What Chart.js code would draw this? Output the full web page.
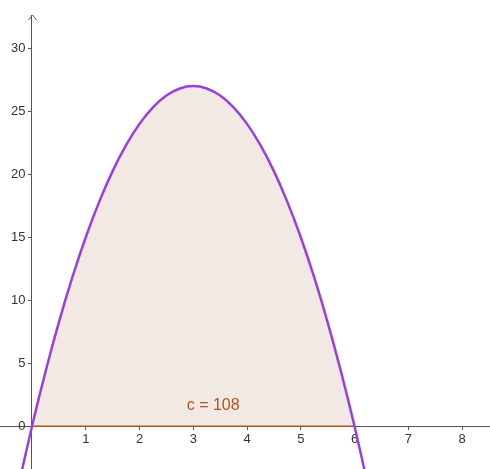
<!DOCTYPE html>
<html>
<head>
<meta charset="utf-8">
<script src="https://cdn.jsdelivr.net/npm/chart.js@4"></script>
<style>
  html, body { margin: 0; padding: 0; background: #fff; }
  #wrap { width: 490px; height: 469px; }
</style>
</head>
<body>
<div id="wrap"><canvas id="chart"></canvas></div>
<script>
// values
const curveX = [-0.25, 0, 0.25, 0.5, 0.75, 1, 1.25, 1.5, 1.75, 2, 2.25, 2.5, 2.75, 3,
                3.25, 3.5, 3.75, 4, 4.25, 4.5, 4.75, 5, 5.25, 5.5, 5.75, 6, 6.25];
const curveY = [-4.69, 0, 4.31, 8.25, 11.81, 15, 17.81, 20.25, 22.31, 24, 25.31, 26.25, 26.81, 27,
                26.81, 26.25, 25.31, 24, 22.31, 20.25, 17.81, 15, 11.81, 8.25, 4.31, 0, -4.69];
const areaFrom = 0;
const areaTo = 6;
const areaLabel = 'c = 108';
const xTicks = [1, 2, 3, 4, 5, 6, 7, 8];
const yTicks = [0, 5, 10, 15, 20, 25, 30];

const curvePts = curveX.map((x, i) => ({ x, y: curveY[i] }));
const areaPts = curvePts.filter(p => p.x >= areaFrom && p.x <= areaTo);

const FONT = '"Liberation Sans", Arial, sans-serif';
const AXIS = '#555';

// arrow on the y axis, y tick labels, area label
const extras = {
    id: 'extras',
    afterDraw(chart) {
        const { ctx, chartArea, scales: { x, y } } = chart;
        const ax = Math.round(x.getPixelForValue(0)) + 0.5;
        ctx.save();
        ctx.strokeStyle = AXIS;
        ctx.lineWidth = 1;
        ctx.beginPath();
        ctx.moveTo(ax - 4, chartArea.top + 5);
        ctx.lineTo(ax, chartArea.top);
        ctx.lineTo(ax + 4, chartArea.top + 5);
        ctx.stroke();

        ctx.fillStyle = '#333';
        ctx.font = '13px ' + FONT;
        ctx.textAlign = 'right';
        ctx.textBaseline = 'middle';
        yTicks.forEach(v => ctx.fillText(String(v), ax - 7, y.getPixelForValue(v)));

        ctx.fillStyle = '#b5501c';
        ctx.font = '16px ' + FONT;
        ctx.textAlign = 'center';
        ctx.textBaseline = 'alphabetic';
        ctx.fillText(areaLabel, x.getPixelForValue(3.37), y.getPixelForValue(1.29));
        ctx.restore();
    },
};

new Chart(document.getElementById('chart'), {
    type: 'line',
    data: {
        datasets: [
            { data: areaPts, borderWidth: 0, pointRadius: 0, fill: 'origin',
              backgroundColor: '#f3e9e4', cubicInterpolationMode: 'monotone', order: 3 },
            { data: [{ x: areaFrom, y: 0 }, { x: areaTo, y: 0 }], borderColor: '#b5501c',
              borderWidth: 1.5, pointRadius: 0, fill: false, order: 2 },
            { data: curvePts, borderColor: '#9a3ee0', borderWidth: 2.5, pointRadius: 0,
              fill: false, cubicInterpolationMode: 'monotone', order: 1 },
        ],
    },
    options: {
        responsive: true, maintainAspectRatio: false, animation: false,
        layout: { padding: { top: 15, left: 0, right: 0, bottom: 0 } },
        plugins: { legend: { display: false }, tooltip: { enabled: false } },
        scales: {
            x: {
                type: 'linear', min: -0.595, max: 8.52, position: { y: 0 },
                afterBuildTicks: s => { s.ticks = xTicks.map(v => ({ value: v })); },
                afterFit: s => { s.paddingLeft = 0; s.paddingRight = 0; },
                grid: { drawOnChartArea: false, drawTicks: true, tickLength: 3, color: AXIS },
                border: { display: true, color: AXIS, width: 1 },
                ticks: { color: '#333', font: { family: FONT, size: 13 }, padding: 2 },
            },
            y: {
                type: 'linear', min: -3.39, max: 32.64, position: { x: 0 },
                afterBuildTicks: s => { s.ticks = yTicks.map(v => ({ value: v })); },
                afterFit: s => { s.paddingTop = 0; s.paddingBottom = 0; },
                grid: { drawOnChartArea: false, drawTicks: true, tickLength: 3, color: AXIS },
                border: { display: true, color: AXIS, width: 1 },
                ticks: { display: false },
            },
        },
    },
    plugins: [extras],
});
</script>
</body>
</html>
